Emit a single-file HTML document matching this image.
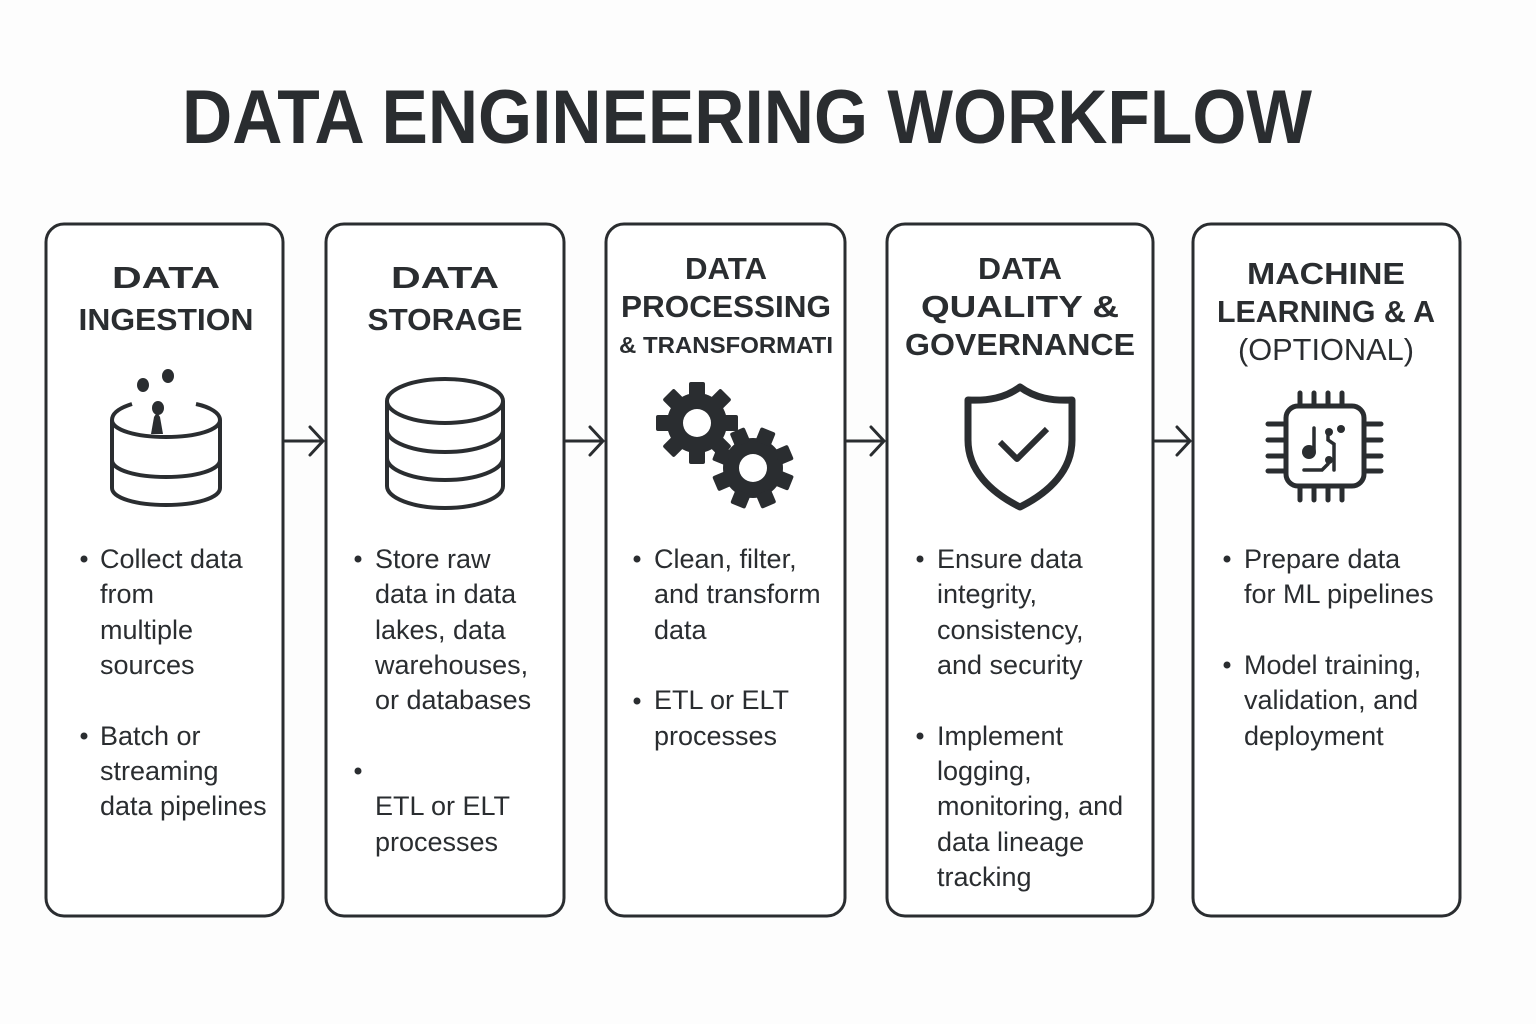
<!DOCTYPE html>
<html><head><meta charset="utf-8"><style>
html,body{margin:0;padding:0;background:#fff;}
svg{display:block;}
text{font-family:"Liberation Sans",Arial,sans-serif;fill:#2a2d30;}
.h{font-weight:bold;text-anchor:middle;}
</style></head><body>
<svg width="1536" height="1024" viewBox="0 0 1536 1024">
<rect width="1536" height="1024" fill="#fdfdfd"/>
<text x="747" y="143" font-size="76" font-weight="bold" text-anchor="middle" textLength="1130" lengthAdjust="spacingAndGlyphs">DATA ENGINEERING WORKFLOW</text>
<g fill="#fff" stroke="#2a2d30" stroke-width="3">
<rect x="46" y="224" width="237" height="692" rx="18"/>
<rect x="326" y="224" width="238" height="692" rx="18"/>
<rect x="606" y="224" width="239" height="692" rx="18"/>
<rect x="887" y="224" width="266" height="692" rx="18"/>
<rect x="1193" y="224" width="267" height="692" rx="18"/>
</g>
<g stroke="#2a2d30" stroke-width="3" fill="none" stroke-linecap="round">
<path d="M285 441H323M310 427L323 441L310 455"/>
<path d="M566 441H603M590 427L603 441L590 455"/>
<path d="M847 441H884M871 427L884 441L871 455"/>
<path d="M1155 441H1190M1177 427L1190 441L1177 455"/>
</g>
<g font-size="31">
<text class="h" x="166" y="288" textLength="108" lengthAdjust="spacingAndGlyphs">DATA</text>
<text class="h" x="166" y="330" textLength="175" lengthAdjust="spacingAndGlyphs">INGESTION</text>
<text class="h" x="445" y="288" textLength="108" lengthAdjust="spacingAndGlyphs">DATA</text>
<text class="h" x="445" y="330" textLength="155" lengthAdjust="spacingAndGlyphs">STORAGE</text>
<text class="h" x="726" y="279" textLength="82" lengthAdjust="spacingAndGlyphs">DATA</text>
<text class="h" x="726" y="317" textLength="210" lengthAdjust="spacingAndGlyphs">PROCESSING</text>
<text class="h" x="726" y="353" style="font-size:23px" textLength="214" lengthAdjust="spacingAndGlyphs">&amp; TRANSFORMATI</text>
<text class="h" x="1020" y="279" textLength="84" lengthAdjust="spacingAndGlyphs">DATA</text>
<text class="h" x="1020" y="317" textLength="198" lengthAdjust="spacingAndGlyphs">QUALITY &amp;</text>
<text class="h" x="1020" y="355" textLength="230" lengthAdjust="spacingAndGlyphs">GOVERNANCE</text>
<text class="h" x="1326" y="284" textLength="158" lengthAdjust="spacingAndGlyphs">MACHINE</text>
<text class="h" x="1326" y="322" textLength="218" lengthAdjust="spacingAndGlyphs">LEARNING &amp; A</text>
<text class="h" x="1326" y="360" style="font-weight:normal" textLength="176" lengthAdjust="spacingAndGlyphs">(OPTIONAL)</text>
</g>
<!-- icon 1 -->
<g stroke="#2a2d30" stroke-width="4" fill="none">
<path d="M132 404C119 408 112 413 112 420V488C112 498 136 505 166 505C196 505 220 498 220 488V420C220 413 210 407 196 404"/>
<path d="M112 420C112 430 136 437 166 437C196 437 220 430 220 420"/>
<path d="M112 460C112 470 136 477 166 477C196 477 220 470 220 460"/>
</g>
<g fill="#2a2d30">
<ellipse cx="143" cy="385" rx="6" ry="7"/><ellipse cx="168" cy="376" rx="6" ry="7"/><ellipse cx="158" cy="408" rx="6" ry="7"/>
<path d="M151 434L154 417Q157 411 160 417L163 434Z"/>
</g>
<!-- icon 2 -->
<g stroke="#2a2d30" stroke-width="4" fill="none">
<ellipse cx="445" cy="401" rx="58" ry="22"/>
<path d="M387 401V486C387 498 413 508 445 508C477 508 503 498 503 486V401"/>
<path d="M387 430C387 442 413 452 445 452C477 452 503 442 503 430"/>
<path d="M387 458C387 470 413 480 445 480C477 480 503 470 503 458"/>
</g>
<!-- gears -->
<defs>
<g id="teeth"><rect x="-8" y="-41" width="16" height="15" rx="2"/><rect x="-8" y="26" width="16" height="15" rx="2"/><rect x="-41" y="-8" width="15" height="16" rx="2"/><rect x="26" y="-8" width="15" height="16" rx="2"/></g>
</defs>
<g fill="#2a2d30">
<g transform="translate(697,423)">
<circle r="30"/>
<use href="#teeth"/><use href="#teeth" transform="rotate(45)"/>
<circle r="14" fill="#fff"/>
</g>
<g transform="translate(753,468)">
<circle r="30"/>
<use href="#teeth" transform="rotate(22)"/><use href="#teeth" transform="rotate(67)"/>
<circle r="14" fill="#fff"/>
</g>
</g>
<!-- shield -->
<g stroke="#2a2d30" stroke-width="7" fill="none" stroke-linejoin="round">
<path d="M1020 387C1005 398 988 401 968 400V440C968 470 990 492 1020 507C1050 492 1072 470 1072 440V400C1052 401 1035 398 1020 387Z"/>
<path d="M1000 442L1017 459L1047 429" stroke-width="6"/>
</g>
<!-- chip -->
<g stroke="#2a2d30" stroke-width="5" fill="none" stroke-linecap="round">
<rect x="1286" y="406" width="78" height="80" rx="12"/>
<path d="M1300 393V406M1314 393V406M1328 393V406M1342 393V406M1300 486V500M1314 486V500M1328 486V500M1342 486V500"/>
<path d="M1268 424H1286M1268 440H1286M1268 456H1286M1268 471H1286M1364 424H1381M1364 440H1381M1364 456H1381M1364 471H1381"/>
<path d="M1314 428V450M1328 432V440L1334 444V470M1304 470H1322L1328 464" stroke-width="3.5"/>
</g>
<g fill="#2a2d30"><circle cx="1309" cy="452" r="7"/><circle cx="1329" cy="432" r="4"/><circle cx="1341" cy="429" r="4"/><circle cx="1329" cy="460" r="4"/></g>
<!-- bullets -->
<g font-size="27">
<circle cx="84" cy="559" r="3.5" fill="#2a2d30"/><circle cx="84" cy="736" r="3.5" fill="#2a2d30"/>
<text x="100" y="568">Collect data</text><text x="100" y="603">from</text><text x="100" y="639">multiple</text><text x="100" y="674">sources</text>
<text x="100" y="745">Batch or</text><text x="100" y="780">streaming</text><text x="100" y="815">data pipelines</text>

<circle cx="358" cy="559" r="3.5" fill="#2a2d30"/><circle cx="358" cy="771" r="3.5" fill="#2a2d30"/>
<text x="375" y="568">Store raw</text><text x="375" y="603">data in data</text><text x="375" y="639">lakes, data</text><text x="375" y="674">warehouses,</text><text x="375" y="709">or databases</text>
<text x="375" y="815">ETL or ELT</text><text x="375" y="851">processes</text>

<circle cx="637" cy="559" r="3.5" fill="#2a2d30"/><circle cx="637" cy="701" r="3.5" fill="#2a2d30"/>
<text x="654" y="568">Clean, filter,</text><text x="654" y="603">and transform</text><text x="654" y="639">data</text>
<text x="654" y="709">ETL or ELT</text><text x="654" y="745">processes</text>

<circle cx="920" cy="559" r="3.5" fill="#2a2d30"/><circle cx="920" cy="736" r="3.5" fill="#2a2d30"/>
<text x="937" y="568">Ensure data</text><text x="937" y="603">integrity,</text><text x="937" y="639">consistency,</text><text x="937" y="674">and security</text>
<text x="937" y="745">Implement</text><text x="937" y="780">logging,</text><text x="937" y="815">monitoring, and</text><text x="937" y="851">data lineage</text><text x="937" y="886">tracking</text>

<circle cx="1227" cy="559" r="3.5" fill="#2a2d30"/><circle cx="1227" cy="665" r="3.5" fill="#2a2d30"/>
<text x="1244" y="568">Prepare data</text><text x="1244" y="603">for ML pipelines</text>
<text x="1244" y="674">Model training,</text><text x="1244" y="709">validation, and</text><text x="1244" y="745">deployment</text>
</g>
</svg>
</body></html>
